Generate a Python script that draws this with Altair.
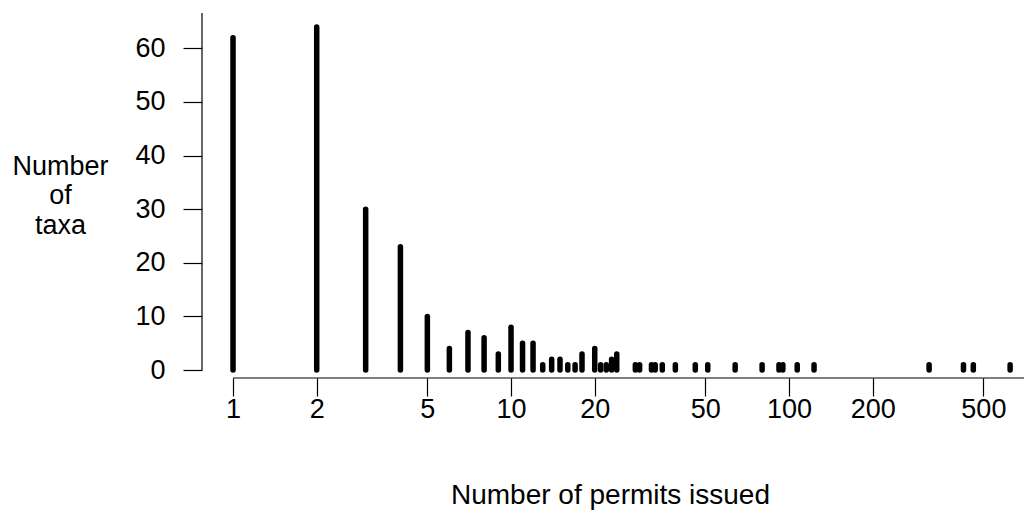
import altair as alt
import pandas as pd

permits = [1, 2, 3, 4, 5, 6, 7, 8, 9, 10, 11, 12, 13, 14, 15, 16, 17, 18, 20,
           21, 22, 23, 24, 28, 29, 32, 33, 35, 39, 46, 51, 64, 80, 92, 95, 107,
           123, 319, 424, 460, 624]
taxa = [62, 64, 30, 23, 10, 4, 7, 6, 3, 8, 5, 5, 1, 2, 2, 1, 1, 3, 4,
        1, 1, 2, 3, 1, 1, 1, 1, 1, 1, 1, 1, 1, 1, 1, 1, 1,
        1, 1, 1, 1, 1]
x_ticks = [1, 2, 5, 10, 20, 50, 100, 200, 500]
y_ticks = [0, 10, 20, 30, 40, 50, 60]

df = pd.DataFrame({"permits": permits, "taxa": taxa})

W, H = 822, 365
FONT = "Liberation Sans"
FS = 27

xscale = alt.Scale(type="log", domain=[0.7734, 700.0], nice=False, zero=False)
yscale = alt.Scale(domain=[-1.49, 66.6], nice=False, zero=False)

xaxis = alt.Axis(values=x_ticks, format="d", domain=False, grid=False,
                 tickSize=18, tickColor="black", tickWidth=1.2,
                 labelFontSize=FS, labelColor="black", labelPadding=0,
                 labelFont=FONT, labelFlush=False, labelOverlap=False,
                 title="Number of permits issued", titleFont=FONT,
                 titleFontSize=28, titleFontWeight="normal", titleColor="black",
                 titleX=408, titleY=117, titleBaseline="middle",
                 titleAnchor="start", titleAlign="center")
yaxis = alt.Axis(values=y_ticks, domain=False, grid=False,
                 tickSize=19, tickColor="black", tickWidth=1.2,
                 labelFontSize=FS, labelColor="black", labelPadding=18,
                 labelFont=FONT, labelOverlap=False,
                 title=["Number", "of", "taxa"], titleFont=FONT,
                 titleFontSize=FS, titleFontWeight="normal", titleColor="black",
                 titleAngle=0, titleX=-142, titleY=153, titleAlign="center",
                 titleBaseline="middle", titleLineHeight=29.5)

bars = alt.Chart(df).mark_rule(strokeWidth=5.5, strokeCap="round", color="black").encode(
    x=alt.X("permits:Q", scale=xscale, axis=xaxis),
    y=alt.Y("taxa:Q", scale=yscale, axis=yaxis),
    y2=alt.datum(0),
)

xline = alt.Chart(pd.DataFrame({"permits": [1]})).mark_rule(
    color="black", strokeWidth=1.2).encode(
    x=alt.X("permits:Q", scale=xscale, axis=xaxis),
    x2=alt.value(W),
    y=alt.value(H),
)

yline = alt.Chart(pd.DataFrame({"taxa": [0]})).mark_rule(
    color="black", strokeWidth=1.2).encode(
    x=alt.value(0),
    y=alt.Y("taxa:Q", scale=yscale, axis=yaxis),
    y2=alt.value(0),
)

chart = alt.layer(bars, xline, yline).properties(
    width=W, height=H,
    autosize=alt.AutoSizeParams(type="none"),
    padding={"left": 194, "top": 5, "right": 0, "bottom": 132},
).configure(background="white").configure_view(stroke=None)

chart.save("out.html", embed_options={"renderer": "svg", "actions": False})
